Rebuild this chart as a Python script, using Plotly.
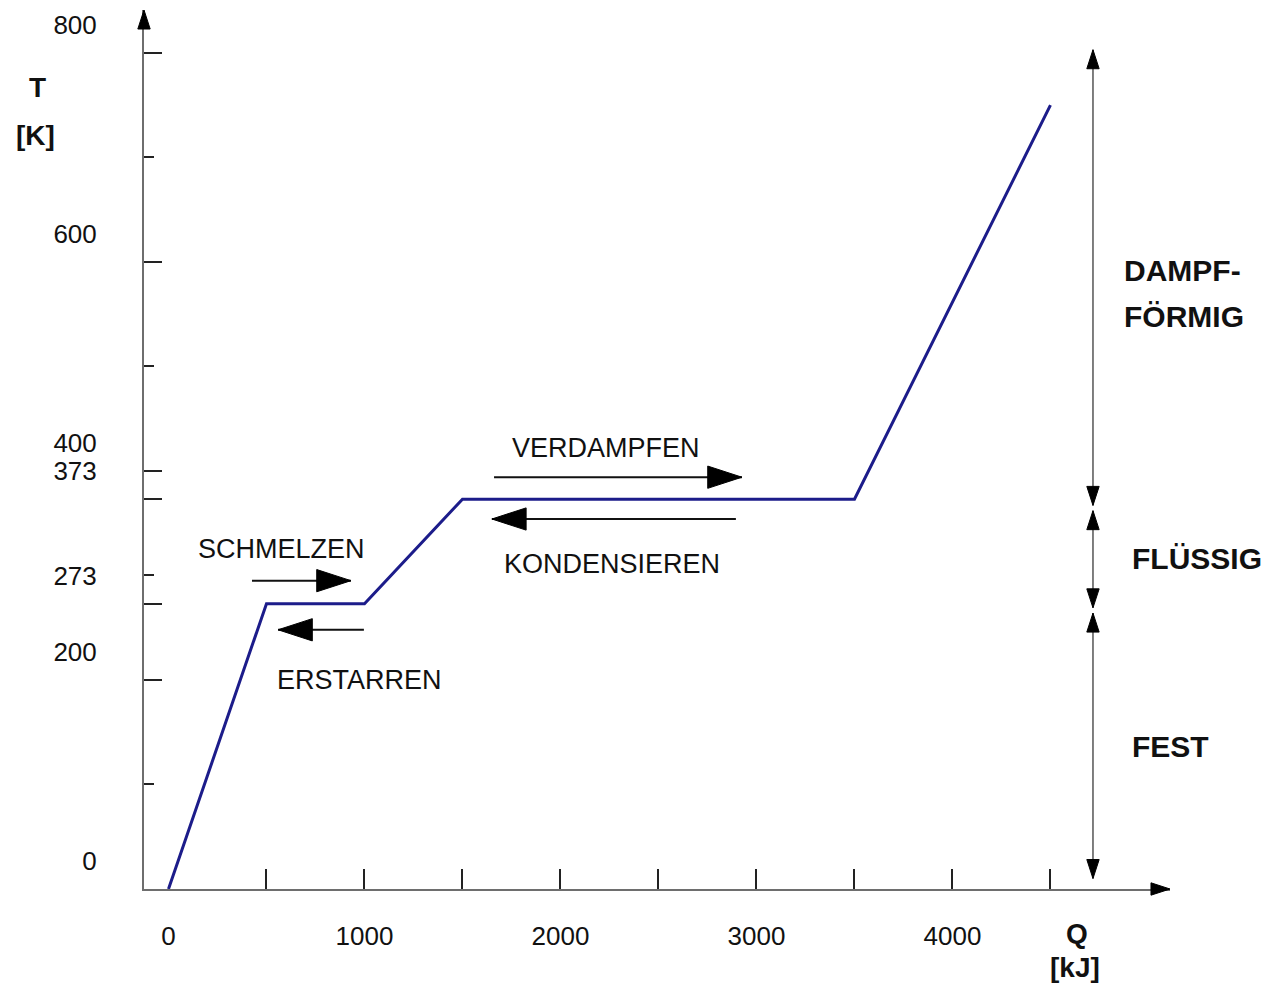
import plotly.graph_objects as go

# ---- heating curve of water ----
Q_KJ = [0, 500, 1000, 1500, 3500, 4500]
T_K = [0, 273, 273, 373, 373, 750]

# ---- axis ticks ----
Y_TICKS = [0, 200, 273, 373, 400, 600, 800]
Y_TICK_TEXT = ["0", "200", "273", "373", "400", "600", "800"]
Y_MINOR = [100, 300, 500, 700]
X_TICKS = [0, 1000, 2000, 3000, 4000]
X_TICK_TEXT = ["0", "1000", "2000", "3000", "4000"]
X_MINOR = [500, 1000, 1500, 2000, 2500, 3000, 3500, 4000, 4500]
X_RANGE = [-125, 5110]
Y_RANGE = [0, 841]

# ---- process arrows ----
PROCESS_LABELS = ["SCHMELZEN", "ERSTARREN", "VERDAMPFEN", "KONDENSIEREN"]
PROCESS_TAIL_Q = [426, 997, 1661, 2895]
PROCESS_HEAD_Q = [931, 559, 2926, 1650]
PROCESS_T = [295, 248, 394, 354]
PROCESS_LABEL_Q = [576, 972, 2232, 2263]
PROCESS_LABEL_T = [325, 200, 422, 311]

# ---- phase ranges on the right ----
PHASE_Q = 4717
PHASE_TOP = [803, 362, 264]
PHASE_BOTTOM = [367, 269, 10]
PHASE_LABELS = ["DAMPF-", "FÖRMIG", "FLÜSSIG", "FEST"]
PHASE_LABEL_Q = [4865, 4865, 4906, 4906]
PHASE_LABEL_T = [592, 548, 316, 136]

# ---- axis titles (paper coordinates) ----
AXIS_TITLES = ["T", "[K]", "Q", "[kJ]"]
AXIS_TITLE_X = [-0.104, -0.106, 0.909, 0.907]
AXIS_TITLE_Y = [0.912, 0.857, -0.051, -0.089]

FONT = "Liberation Sans, Arial, sans-serif"
INK = "#111111"

fig = go.Figure()

# heating curve
fig.add_trace(go.Scatter(
    x=Q_KJ, y=T_K, mode="lines",
    line=dict(color="#1c1c8a", width=3),
    cliponaxis=False, hoverinfo="skip", showlegend=False))

# process arrow shafts
for tq, hq, t in zip(PROCESS_TAIL_Q, PROCESS_HEAD_Q, PROCESS_T):
    fig.add_trace(go.Scatter(
        x=[tq, hq], y=[t, t], mode="lines",
        line=dict(color=INK, width=2),
        cliponaxis=False, hoverinfo="skip", showlegend=False))
# process arrow heads
fig.add_trace(go.Scatter(
    x=PROCESS_HEAD_Q, y=PROCESS_T, mode="markers",
    marker=dict(symbol="arrow", size=36,
                angle=[90 if h > t else 270 for t, h in zip(PROCESS_TAIL_Q, PROCESS_HEAD_Q)],
                color="#000000", opacity=1, line=dict(width=1, color="#000000")),
    cliponaxis=False, hoverinfo="skip", showlegend=False))

# phase range double arrows
for top, bot in zip(PHASE_TOP, PHASE_BOTTOM):
    fig.add_trace(go.Scatter(
        x=[PHASE_Q, PHASE_Q], y=[top, bot], mode="lines",
        line=dict(color="#555555", width=1.5),
        cliponaxis=False, hoverinfo="skip", showlegend=False))
fig.add_trace(go.Scatter(
    x=[PHASE_Q] * (2 * len(PHASE_TOP)), y=PHASE_TOP + PHASE_BOTTOM, mode="markers",
    marker=dict(symbol="arrow", size=20,
                angle=[0] * len(PHASE_TOP) + [180] * len(PHASE_BOTTOM),
                color="#000000", opacity=1, line=dict(width=1, color="#000000")),
    cliponaxis=False, hoverinfo="skip", showlegend=False))

# axis arrowheads
fig.add_trace(go.Scatter(
    x=[X_RANGE[0], X_RANGE[1]], y=[Y_RANGE[1], Y_RANGE[0]], mode="markers",
    marker=dict(symbol="arrow", size=20, angle=[0, 90],
                color="#000000", opacity=1, line=dict(width=1, color="#000000")),
    cliponaxis=False, hoverinfo="skip", showlegend=False))

annotations = []
for txt, q, t in zip(PROCESS_LABELS, PROCESS_LABEL_Q, PROCESS_LABEL_T):
    annotations.append(dict(x=q, y=t, xref="x", yref="y", text=txt,
                            showarrow=False, xanchor="center", yanchor="middle",
                            font=dict(family=FONT, size=27, color=INK)))
for txt, q, t in zip(PHASE_LABELS, PHASE_LABEL_Q, PHASE_LABEL_T):
    annotations.append(dict(x=q, y=t, xref="x", yref="y", text="<b>%s</b>" % txt,
                            showarrow=False, xanchor="left", yanchor="middle",
                            font=dict(family=FONT, size=30, color=INK)))
for txt, px, py in zip(AXIS_TITLES, AXIS_TITLE_X, AXIS_TITLE_Y):
    annotations.append(dict(x=px, y=py, xref="paper", yref="paper", text="<b>%s</b>" % txt,
                            showarrow=False, xanchor="center", yanchor="middle",
                            font=dict(family=FONT, size=28, color=INK)))

fig.update_layout(
    width=1276, height=983,
    margin=dict(l=144, r=106, t=10, b=94),
    paper_bgcolor="white", plot_bgcolor="white",
    showlegend=False,
    annotations=annotations,
    xaxis=dict(
        range=X_RANGE, showgrid=False, zeroline=False, layer="below traces",
        showline=True, linecolor="#6e6e6e", linewidth=2,
        tickmode="array", tickvals=X_TICKS, ticktext=X_TICK_TEXT,
        ticks="", ticklabelstandoff=23,
        tickfont=dict(family=FONT, size=26, color=INK),
        minor=dict(tickmode="array", tickvals=X_MINOR, ticks="inside",
                   ticklen=20, tickwidth=1.5, tickcolor="#222222", showgrid=False),
    ),
    yaxis=dict(
        range=Y_RANGE, showgrid=False, zeroline=False, layer="below traces",
        showline=True, linecolor="#6e6e6e", linewidth=2,
        tickmode="array", tickvals=Y_TICKS, ticktext=Y_TICK_TEXT,
        ticks="inside", ticklen=18, tickwidth=2, tickcolor="#222222",
        ticklabelshift=-28, ticklabelstandoff=40,
        tickfont=dict(family=FONT, size=26, color=INK),
        minor=dict(tickmode="array", tickvals=Y_MINOR, ticks="inside",
                   ticklen=10, tickwidth=2, tickcolor="#222222", showgrid=False),
    ),
)

fig.write_html("out.html",
               config={"displayModeBar": False},
               post_script="document.body.style.margin='0';document.body.style.overflow='hidden';")
